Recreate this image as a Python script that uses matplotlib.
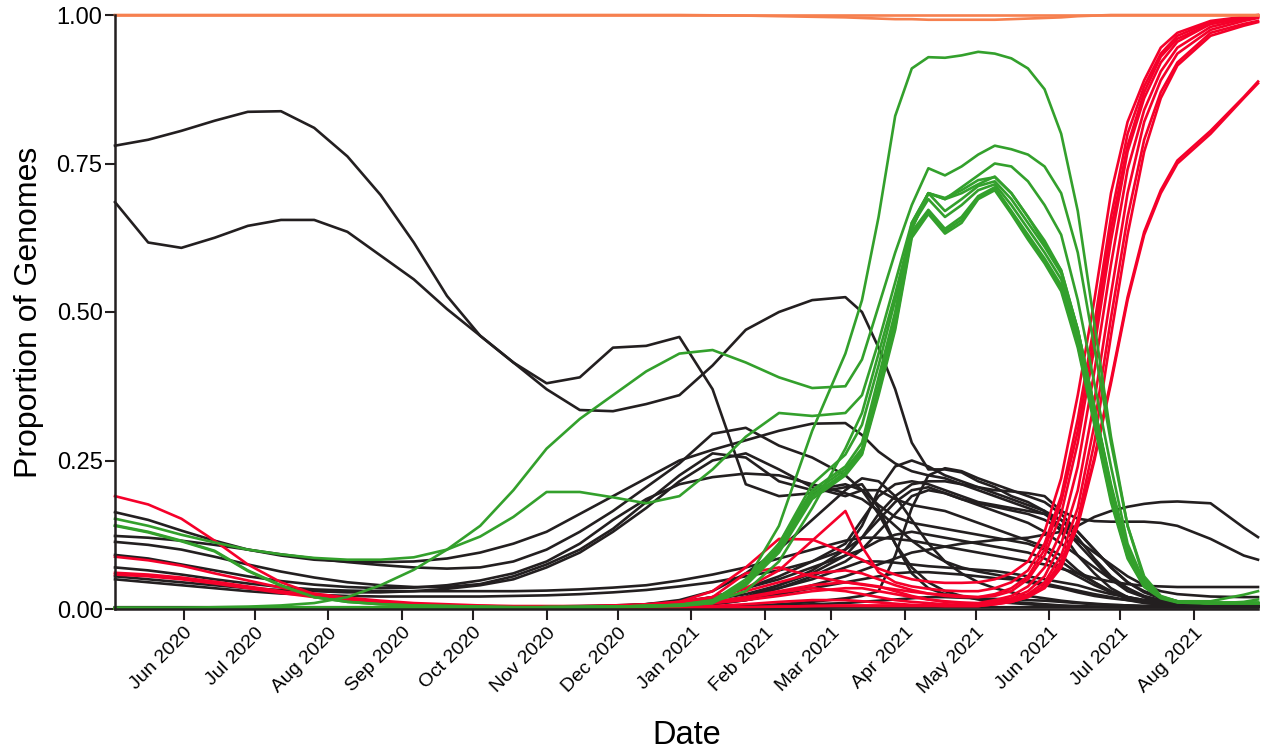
import numpy as np
import pandas as pd
import matplotlib
matplotlib.use("Agg")
import matplotlib.pyplot as plt
import matplotlib.dates as mdates
from matplotlib.ticker import FixedLocator, FormatStrFormatter

# ---------------- data ----------------
dates = pd.to_datetime([
    "2020-05-03", "2020-05-17", "2020-05-31", "2020-06-14", "2020-06-28", "2020-07-12",
    "2020-07-26", "2020-08-09", "2020-08-23", "2020-09-06", "2020-09-20", "2020-10-04",
    "2020-10-18", "2020-11-01", "2020-11-15", "2020-11-29", "2020-12-13", "2020-12-27",
    "2021-01-10", "2021-01-24", "2021-02-07", "2021-02-21",
    "2021-03-07", "2021-03-14", "2021-03-21", "2021-03-28", "2021-04-04", "2021-04-11",
    "2021-04-18", "2021-04-25",
    "2021-05-02", "2021-05-09", "2021-05-16", "2021-05-23", "2021-05-30", "2021-06-06",
    "2021-06-13", "2021-06-20", "2021-06-27", "2021-07-04", "2021-07-11", "2021-07-18",
    "2021-07-25",
    "2021-08-08", "2021-08-22", "2021-08-28"])

# other lineages (black)
k1 = [0.780, 0.790, 0.805, 0.822, 0.837, 0.838, 0.810, 0.762, 0.697, 0.617, 0.527, 0.460, 0.415, 0.370, 0.335, 0.333, 0.345, 0.360,
      0.410, 0.470, 0.500, 0.520,
      0.525, 0.500, 0.440, 0.370, 0.280, 0.235, 0.235, 0.230,
      0.215, 0.205, 0.190, 0.180, 0.165, 0.130, 0.090, 0.060, 0.035, 0.020, 0.012, 0.008, 0.006,
      0.005, 0.004, 0.004]
k2 = [0.685, 0.617, 0.608, 0.625, 0.645, 0.655, 0.655, 0.635, 0.595, 0.555, 0.505, 0.460, 0.415, 0.380, 0.390, 0.440, 0.443, 0.458,
      0.370, 0.210, 0.190, 0.195,
      0.205, 0.210, 0.170, 0.110, 0.060, 0.035, 0.025, 0.020,
      0.018, 0.015, 0.012, 0.010, 0.008, 0.006, 0.005, 0.004, 0.004, 0.003, 0.003, 0.003, 0.003,
      0.003, 0.003, 0.003]
k3 = [0.163, 0.150, 0.132, 0.115, 0.100, 0.090, 0.083, 0.080, 0.079, 0.080, 0.085, 0.095, 0.110, 0.130, 0.160, 0.190, 0.220, 0.250,
      0.268, 0.284, 0.300, 0.312,
      0.313, 0.293, 0.265, 0.245, 0.232, 0.225, 0.220, 0.210,
      0.200, 0.190, 0.180, 0.170, 0.160, 0.140, 0.110, 0.080, 0.050, 0.030, 0.020, 0.012, 0.008,
      0.005, 0.004, 0.004]
k4 = [0.123, 0.120, 0.115, 0.108, 0.100, 0.092, 0.085, 0.079, 0.074, 0.070, 0.068, 0.070, 0.080, 0.100, 0.130, 0.165, 0.205, 0.245,
      0.295, 0.305, 0.275, 0.255,
      0.225, 0.200, 0.175, 0.155, 0.145, 0.140, 0.135, 0.130,
      0.125, 0.120, 0.115, 0.110, 0.100, 0.080, 0.060, 0.045, 0.030, 0.020, 0.012, 0.008, 0.006,
      0.005, 0.004, 0.004]
k5 = [0.113, 0.108, 0.100, 0.088, 0.075, 0.063, 0.053, 0.045, 0.040, 0.037, 0.037, 0.042, 0.055, 0.075, 0.100, 0.135, 0.180, 0.225,
      0.262, 0.255, 0.215, 0.200,
      0.210, 0.200, 0.160, 0.110, 0.070, 0.045, 0.030, 0.022,
      0.016, 0.012, 0.010, 0.008, 0.006, 0.005, 0.004, 0.004, 0.003, 0.003, 0.003, 0.003, 0.003,
      0.003, 0.003, 0.003]
k6 = [0.055, 0.050, 0.045, 0.040, 0.035, 0.032, 0.030, 0.028, 0.028, 0.030, 0.034, 0.040, 0.050, 0.070, 0.095, 0.130, 0.170, 0.215,
      0.250, 0.262, 0.235, 0.205,
      0.190, 0.200, 0.200, 0.185, 0.175, 0.170, 0.165, 0.155,
      0.145, 0.135, 0.125, 0.115, 0.105, 0.090, 0.065, 0.045, 0.028, 0.017, 0.011, 0.007, 0.005,
      0.004, 0.004, 0.004]
k7 = [0.091, 0.085, 0.075, 0.065, 0.055, 0.047, 0.041, 0.037, 0.035, 0.036, 0.040, 0.048, 0.060, 0.080, 0.110, 0.150, 0.185, 0.210,
      0.222, 0.228, 0.225, 0.210,
      0.195, 0.185, 0.165, 0.140, 0.115, 0.095, 0.080, 0.070,
      0.063, 0.058, 0.053, 0.048, 0.043, 0.037, 0.031, 0.025, 0.020, 0.015, 0.010, 0.008, 0.006,
      0.005, 0.004, 0.004]
k8 = [0.070, 0.065, 0.058, 0.050, 0.043, 0.037, 0.033, 0.031, 0.030, 0.030, 0.030, 0.030, 0.030, 0.031, 0.033, 0.036, 0.040, 0.048,
      0.058, 0.070, 0.085, 0.100,
      0.115, 0.120, 0.120, 0.118, 0.115, 0.110, 0.105, 0.100,
      0.095, 0.090, 0.085, 0.080, 0.075, 0.068, 0.060, 0.052, 0.046, 0.042, 0.039, 0.038, 0.037,
      0.037, 0.037, 0.037]
k9 = [0.050, 0.045, 0.040, 0.035, 0.030, 0.026, 0.024, 0.022, 0.021, 0.021, 0.021, 0.021, 0.022, 0.023, 0.025, 0.028, 0.032, 0.038,
      0.045, 0.055, 0.065, 0.080,
      0.100, 0.120, 0.150, 0.180, 0.200, 0.205, 0.195, 0.185,
      0.178, 0.172, 0.166, 0.160, 0.150, 0.135, 0.115, 0.095, 0.075, 0.055, 0.040, 0.030, 0.025,
      0.021, 0.020, 0.020]
k10 = [0.002, 0.002, 0.002, 0.002, 0.002, 0.002, 0.002, 0.002, 0.002, 0.002, 0.002, 0.003, 0.003, 0.004, 0.005, 0.006, 0.008, 0.011,
       0.016, 0.025, 0.040, 0.065,
       0.100, 0.140, 0.200, 0.240, 0.250, 0.240, 0.225, 0.215,
       0.205, 0.195, 0.185, 0.175, 0.165, 0.150, 0.120, 0.085, 0.055, 0.035, 0.020, 0.012, 0.008,
       0.005, 0.004, 0.004]
k11 = [0.001, 0.001, 0.001, 0.001, 0.001, 0.001, 0.001, 0.001, 0.001, 0.001, 0.001, 0.001, 0.001, 0.001, 0.001, 0.001, 0.002, 0.002,
       0.003, 0.005, 0.008, 0.012,
       0.018, 0.022, 0.030, 0.090, 0.170, 0.225, 0.237, 0.232,
       0.220, 0.210, 0.200, 0.190, 0.180, 0.160, 0.130, 0.100, 0.070, 0.045, 0.030, 0.020, 0.013,
       0.008, 0.006, 0.005]
k12 = [0.001, 0.001, 0.001, 0.001, 0.001, 0.001, 0.001, 0.001, 0.001, 0.001, 0.001, 0.001, 0.001, 0.001, 0.002, 0.003, 0.005, 0.010,
       0.020, 0.035, 0.055, 0.080,
       0.110, 0.150, 0.190, 0.210, 0.215, 0.210, 0.200, 0.190,
       0.180, 0.175, 0.170, 0.165, 0.160, 0.150, 0.130, 0.100, 0.070, 0.045, 0.028, 0.018, 0.012,
       0.008, 0.006, 0.005]
k13 = [0.001, 0.001, 0.001, 0.001, 0.001, 0.001, 0.001, 0.001, 0.001, 0.001, 0.001, 0.001, 0.001, 0.001, 0.002, 0.003, 0.004, 0.006,
       0.010, 0.020, 0.035, 0.055,
       0.080, 0.100, 0.130, 0.160, 0.190, 0.200, 0.195, 0.185,
       0.175, 0.165, 0.155, 0.145, 0.130, 0.110, 0.090, 0.070, 0.050, 0.035, 0.022, 0.015, 0.010,
       0.007, 0.005, 0.005]
k14 = [0.001, 0.001, 0.001, 0.001, 0.001, 0.001, 0.001, 0.001, 0.001, 0.001, 0.001, 0.001, 0.001, 0.001, 0.002, 0.003, 0.004, 0.006,
       0.008, 0.015, 0.025, 0.040,
       0.055, 0.065, 0.075, 0.085, 0.095, 0.100, 0.105, 0.110,
       0.113, 0.116, 0.118, 0.120, 0.125, 0.130, 0.140, 0.155, 0.165, 0.172, 0.177, 0.180, 0.181,
       0.178, 0.137, 0.121]
k15 = [0.001, 0.001, 0.001, 0.001, 0.001, 0.001, 0.001, 0.001, 0.001, 0.001, 0.001, 0.001, 0.001, 0.001, 0.002, 0.003, 0.005, 0.007,
       0.010, 0.020, 0.040, 0.060,
       0.090, 0.120, 0.160, 0.190, 0.210, 0.215, 0.215, 0.210,
       0.205, 0.200, 0.198, 0.195, 0.190, 0.165, 0.152, 0.148, 0.147, 0.147, 0.147, 0.145, 0.140,
       0.118, 0.090, 0.083]
k16 = [0.001, 0.001, 0.001, 0.001, 0.001, 0.001, 0.001, 0.001, 0.001, 0.001, 0.001, 0.001, 0.001, 0.001, 0.003, 0.005, 0.008, 0.012,
       0.020, 0.035, 0.050, 0.070,
       0.090, 0.100, 0.115, 0.125, 0.130, 0.125, 0.120, 0.115,
       0.110, 0.105, 0.100, 0.095, 0.085, 0.070, 0.055, 0.040, 0.028, 0.020, 0.015, 0.012, 0.010,
       0.008, 0.007, 0.006]
k17 = [0.001, 0.001, 0.001, 0.001, 0.001, 0.001, 0.001, 0.001, 0.001, 0.001, 0.001, 0.001, 0.001, 0.001, 0.002, 0.003, 0.004, 0.006,
       0.008, 0.015, 0.025, 0.035,
       0.045, 0.050, 0.055, 0.060, 0.062, 0.062, 0.060, 0.058,
       0.055, 0.052, 0.050, 0.045, 0.040, 0.035, 0.028, 0.022, 0.018, 0.015, 0.012, 0.010, 0.010,
       0.010, 0.010, 0.010]
k18 = [0.001, 0.001, 0.001, 0.001, 0.001, 0.001, 0.001, 0.001, 0.001, 0.001, 0.001, 0.001, 0.001, 0.001, 0.002, 0.003, 0.004, 0.006,
       0.010, 0.020, 0.035, 0.050,
       0.070, 0.080, 0.080, 0.078, 0.075, 0.072, 0.070, 0.068,
       0.066, 0.064, 0.060, 0.055, 0.050, 0.045, 0.040, 0.032, 0.025, 0.020, 0.015, 0.012, 0.010,
       0.008, 0.006, 0.005]
k19 = [0.003, 0.003, 0.003, 0.003, 0.003, 0.003, 0.003, 0.003, 0.003, 0.003, 0.003, 0.003, 0.003, 0.003, 0.003, 0.003, 0.003, 0.003,
       0.004, 0.005, 0.006, 0.008,
       0.010, 0.012, 0.014, 0.016, 0.018, 0.020, 0.020, 0.019,
       0.018, 0.017, 0.016, 0.015, 0.014, 0.012, 0.010, 0.008, 0.007, 0.006, 0.005, 0.005, 0.005,
       0.005, 0.005, 0.005]
k20 = [0.002, 0.002, 0.002, 0.002, 0.002, 0.002, 0.002, 0.002, 0.002, 0.002, 0.002, 0.002, 0.002, 0.002, 0.002, 0.002, 0.002, 0.002,
       0.002, 0.002, 0.002, 0.002,
       0.003, 0.003, 0.003, 0.003, 0.003, 0.003, 0.003, 0.003,
       0.003, 0.003, 0.003, 0.003, 0.003, 0.003, 0.003, 0.003, 0.003, 0.003, 0.003, 0.003, 0.003,
       0.003, 0.003, 0.003]
k21 = [0.001, 0.001, 0.001, 0.001, 0.001, 0.001, 0.001, 0.001, 0.001, 0.001, 0.001, 0.001, 0.001, 0.001, 0.002, 0.004, 0.008, 0.015,
       0.030, 0.060, 0.100, 0.150,
       0.200, 0.220, 0.215, 0.190, 0.150, 0.110, 0.080, 0.060,
       0.045, 0.035, 0.028, 0.022, 0.018, 0.014, 0.011, 0.009, 0.007, 0.006, 0.005, 0.005, 0.004,
       0.004, 0.004, 0.004]

# Alpha-like lineages (green)
g1 = [0.002, 0.002, 0.002, 0.002, 0.002, 0.002, 0.002, 0.002, 0.002, 0.002, 0.002, 0.003, 0.003, 0.003, 0.004, 0.004, 0.005, 0.007,
      0.015, 0.045, 0.140, 0.300,
      0.430, 0.520, 0.660, 0.830, 0.910, 0.929, 0.928, 0.932,
      0.938, 0.935, 0.927, 0.910, 0.875, 0.800, 0.670, 0.480, 0.290, 0.140, 0.050, 0.020, 0.012,
      0.010, 0.010, 0.010]
g2 = [0.002, 0.002, 0.002, 0.003, 0.004, 0.006, 0.010, 0.020, 0.040, 0.066, 0.100, 0.140, 0.200, 0.270, 0.320, 0.360, 0.400, 0.430,
      0.436, 0.415, 0.390, 0.372,
      0.375, 0.420, 0.510, 0.600, 0.680, 0.742, 0.730, 0.745,
      0.765, 0.780, 0.774, 0.765, 0.745, 0.700, 0.600, 0.440, 0.280, 0.140, 0.055, 0.022, 0.013,
      0.010, 0.010, 0.010]
g3 = [0.152, 0.140, 0.125, 0.112, 0.100, 0.092, 0.086, 0.083, 0.083, 0.087, 0.100, 0.122, 0.155, 0.197, 0.197, 0.188, 0.178, 0.190,
      0.235, 0.290, 0.330, 0.325,
      0.330, 0.360, 0.450, 0.550, 0.650, 0.700, 0.690, 0.710,
      0.730, 0.750, 0.745, 0.720, 0.680, 0.630, 0.520, 0.380, 0.240, 0.110, 0.045, 0.020, 0.012,
      0.010, 0.010, 0.010]
g4 = [0.141, 0.130, 0.115, 0.098, 0.065, 0.040, 0.020, 0.012, 0.008, 0.006, 0.005, 0.004, 0.003, 0.003, 0.003, 0.003, 0.004, 0.006,
      0.012, 0.030, 0.080, 0.170,
      0.270, 0.330, 0.430, 0.530, 0.640, 0.700, 0.690, 0.700,
      0.715, 0.728, 0.700, 0.660, 0.620, 0.570, 0.470, 0.340, 0.210, 0.100, 0.040, 0.020, 0.012,
      0.010, 0.010, 0.010]
g5 = [0.140, 0.129, 0.114, 0.097, 0.064, 0.039, 0.020, 0.012, 0.008, 0.006, 0.005, 0.004, 0.003, 0.003, 0.003, 0.003, 0.004, 0.005,
      0.010, 0.040, 0.100, 0.190,
      0.230, 0.265, 0.370, 0.480, 0.635, 0.672, 0.640, 0.660,
      0.695, 0.710, 0.670, 0.630, 0.590, 0.545, 0.450, 0.320, 0.190, 0.090, 0.040, 0.020, 0.012,
      0.010, 0.010, 0.010]
g6 = [0.001, 0.001, 0.001, 0.001, 0.001, 0.002, 0.002, 0.002, 0.002, 0.002, 0.002, 0.002, 0.002, 0.003, 0.003, 0.004, 0.005, 0.006,
      0.012, 0.045, 0.105, 0.195,
      0.235, 0.270, 0.375, 0.490, 0.645, 0.690, 0.660, 0.680,
      0.705, 0.715, 0.680, 0.640, 0.600, 0.555, 0.460, 0.330, 0.200, 0.095, 0.042, 0.020, 0.012,
      0.010, 0.010, 0.010]
g7 = [0.001, 0.001, 0.001, 0.001, 0.001, 0.002, 0.002, 0.002, 0.002, 0.002, 0.002, 0.002, 0.002, 0.003, 0.003, 0.004, 0.005, 0.006,
      0.010, 0.040, 0.095, 0.185,
      0.225, 0.260, 0.360, 0.470, 0.625, 0.665, 0.632, 0.650,
      0.690, 0.705, 0.665, 0.622, 0.582, 0.535, 0.440, 0.310, 0.180, 0.085, 0.037, 0.018, 0.011,
      0.009, 0.012, 0.016]
g8 = [0.001, 0.001, 0.001, 0.001, 0.001, 0.002, 0.002, 0.002, 0.002, 0.002, 0.002, 0.002, 0.002, 0.003, 0.003, 0.004, 0.005, 0.007,
      0.014, 0.050, 0.110, 0.200,
      0.240, 0.280, 0.390, 0.500, 0.650, 0.700, 0.670, 0.690,
      0.712, 0.720, 0.690, 0.650, 0.610, 0.565, 0.470, 0.340, 0.205, 0.100, 0.045, 0.021, 0.013,
      0.013, 0.024, 0.030]
g9 = [0.001, 0.001, 0.001, 0.001, 0.001, 0.002, 0.002, 0.002, 0.002, 0.002, 0.002, 0.002, 0.002, 0.003, 0.003, 0.004, 0.005, 0.006,
      0.011, 0.042, 0.100, 0.190,
      0.228, 0.262, 0.365, 0.475, 0.630, 0.668, 0.636, 0.655,
      0.692, 0.708, 0.668, 0.625, 0.585, 0.540, 0.445, 0.315, 0.185, 0.088, 0.038, 0.019, 0.012,
      0.010, 0.010, 0.010]
g10 = [0.001, 0.001, 0.001, 0.001, 0.001, 0.002, 0.002, 0.002, 0.002, 0.002, 0.002, 0.002, 0.002, 0.003, 0.003, 0.004, 0.005, 0.007,
       0.012, 0.040, 0.110, 0.210,
       0.260, 0.310, 0.410, 0.520, 0.640, 0.700, 0.692, 0.705,
       0.722, 0.727, 0.700, 0.660, 0.615, 0.570, 0.470, 0.340, 0.205, 0.098, 0.040, 0.020, 0.012,
       0.010, 0.010, 0.010]

# Delta-like lineages (red)
d1 = [0.190, 0.176, 0.152, 0.115, 0.075, 0.045, 0.025, 0.015, 0.010, 0.007, 0.006, 0.005, 0.004, 0.004, 0.004, 0.005, 0.007, 0.012,
      0.030, 0.070, 0.118, 0.117,
      0.095, 0.083, 0.068, 0.058, 0.050, 0.046, 0.044, 0.044,
      0.045, 0.050, 0.060, 0.080, 0.130, 0.220, 0.360, 0.520, 0.700, 0.820, 0.890, 0.945, 0.970,
      0.990, 0.997, 1.000]
d2 = [0.088, 0.082, 0.073, 0.060, 0.048, 0.036, 0.026, 0.019, 0.014, 0.010, 0.008, 0.006, 0.005, 0.005, 0.005, 0.006, 0.008, 0.012,
      0.020, 0.035, 0.065, 0.115,
      0.165, 0.105, 0.062, 0.045, 0.038, 0.034, 0.031, 0.030,
      0.030, 0.035, 0.045, 0.065, 0.110, 0.190, 0.320, 0.480, 0.660, 0.800, 0.880, 0.935, 0.965,
      0.988, 0.996, 0.999]
d3 = [0.058, 0.055, 0.050, 0.043, 0.035, 0.027, 0.020, 0.014, 0.010, 0.007, 0.005, 0.004, 0.004, 0.004, 0.004, 0.005, 0.006, 0.009,
      0.020, 0.060, 0.070, 0.055,
      0.045, 0.041, 0.037, 0.033, 0.029, 0.026, 0.024, 0.022,
      0.020, 0.022, 0.030, 0.050, 0.090, 0.160, 0.280, 0.440, 0.620, 0.770, 0.860, 0.920, 0.955,
      0.985, 0.995, 0.998]
d4 = [0.061, 0.058, 0.053, 0.046, 0.038, 0.030, 0.022, 0.016, 0.011, 0.008, 0.006, 0.005, 0.004, 0.004, 0.004, 0.004, 0.005, 0.007,
      0.010, 0.015, 0.022, 0.030,
      0.035, 0.035, 0.030, 0.025, 0.020, 0.016, 0.013, 0.011,
      0.010, 0.015, 0.022, 0.038, 0.070, 0.130, 0.240, 0.400, 0.580, 0.740, 0.840, 0.905, 0.945,
      0.980, 0.993, 0.997]
d5 = [0.001, 0.001, 0.001, 0.001, 0.001, 0.001, 0.001, 0.001, 0.001, 0.001, 0.001, 0.001, 0.002, 0.002, 0.003, 0.004, 0.006, 0.008,
      0.012, 0.020, 0.030, 0.040,
      0.045, 0.042, 0.038, 0.030, 0.022, 0.016, 0.012, 0.010,
      0.008, 0.012, 0.018, 0.030, 0.055, 0.110, 0.200, 0.350, 0.530, 0.700, 0.820, 0.890, 0.935,
      0.975, 0.990, 0.995]
d6 = [0.001, 0.001, 0.001, 0.001, 0.001, 0.001, 0.001, 0.001, 0.001, 0.001, 0.001, 0.001, 0.001, 0.001, 0.002, 0.003, 0.004, 0.006,
      0.010, 0.018, 0.028, 0.035,
      0.030, 0.025, 0.020, 0.015, 0.012, 0.010, 0.008, 0.007,
      0.006, 0.010, 0.015, 0.025, 0.045, 0.090, 0.170, 0.310, 0.490, 0.660, 0.790, 0.870, 0.920,
      0.970, 0.985, 0.990]
d7 = [0.001, 0.001, 0.001, 0.001, 0.001, 0.001, 0.001, 0.001, 0.001, 0.001, 0.001, 0.001, 0.001, 0.001, 0.001, 0.001, 0.002, 0.003,
      0.005, 0.008, 0.012, 0.015,
      0.015, 0.013, 0.011, 0.009, 0.007, 0.006, 0.005, 0.005,
      0.005, 0.008, 0.012, 0.020, 0.040, 0.080, 0.150, 0.280, 0.460, 0.630, 0.770, 0.860, 0.915,
      0.965, 0.982, 0.988]
d8 = [0.001, 0.001, 0.001, 0.001, 0.001, 0.001, 0.001, 0.001, 0.001, 0.001, 0.001, 0.001, 0.001, 0.001, 0.002, 0.003, 0.005, 0.008,
      0.015, 0.030, 0.045, 0.060,
      0.065, 0.060, 0.050, 0.040, 0.032, 0.026, 0.022, 0.020,
      0.020, 0.025, 0.035, 0.055, 0.100, 0.180, 0.300, 0.460, 0.640, 0.780, 0.870, 0.930, 0.960,
      0.985, 0.995, 0.998]
d9 = [0.001, 0.001, 0.001, 0.001, 0.001, 0.001, 0.001, 0.001, 0.001, 0.001, 0.001, 0.001, 0.001, 0.001, 0.001, 0.001, 0.001, 0.001,
      0.002, 0.003, 0.004, 0.005,
      0.005, 0.005, 0.005, 0.005, 0.005, 0.005, 0.005, 0.005,
      0.005, 0.008, 0.012, 0.020, 0.035, 0.070, 0.140, 0.250, 0.380, 0.520, 0.630, 0.700, 0.750,
      0.800, 0.860, 0.885]
d10 = [0.001, 0.001, 0.001, 0.001, 0.001, 0.001, 0.001, 0.001, 0.001, 0.001, 0.001, 0.001, 0.001, 0.001, 0.001, 0.001, 0.001, 0.001,
       0.002, 0.003, 0.004, 0.005,
       0.006, 0.006, 0.006, 0.006, 0.006, 0.006, 0.006, 0.006,
       0.006, 0.009, 0.013, 0.022, 0.038, 0.075, 0.145, 0.255, 0.385, 0.525, 0.635, 0.705, 0.755,
       0.805, 0.862, 0.888]

# parent-level totals (orange)
o1 = [1.000, 1.000, 1.000, 1.000, 1.000, 1.000, 1.000, 1.000, 1.000, 1.000, 1.000, 1.000, 1.000, 1.000, 1.000, 1.000, 1.000, 1.000,
      1.000, 1.000, 1.000, 1.000,
      1.000, 1.000, 1.000, 1.000, 1.000, 1.000, 1.000, 1.000,
      1.000, 1.000, 1.000, 1.000, 1.000, 1.000, 1.000, 1.000, 1.000, 1.000, 1.000, 1.000, 1.000,
      1.000, 1.000, 1.000]
o2 = [1.000, 1.000, 1.000, 1.000, 1.000, 1.000, 1.000, 1.000, 1.000, 1.000, 1.000, 1.000, 1.000, 1.000, 1.000, 1.000, 1.000, 1.000,
      0.9995, 0.999, 0.998, 0.997,
      0.996, 0.995, 0.994, 0.993, 0.993, 0.992, 0.992, 0.992,
      0.992, 0.992, 0.993, 0.994, 0.995, 0.996, 0.998, 0.999, 1.000, 1.000, 1.000, 1.000, 1.000,
      1.000, 1.000, 1.000]

black_series = [k1, k2, k3, k4, k5, k6, k7, k8, k9, k10, k11, k12, k13, k14, k15, k16, k17, k18, k19, k20, k21]
green_series = [g1, g2, g3, g4, g5, g6, g7, g8, g9, g10]
red_series = [d1, d2, d3, d4, d5, d6, d7, d8, d9, d10]
orange_series = [o2, o1]

month_ticks = pd.to_datetime(["2020-06-01", "2020-07-01", "2020-08-01", "2020-09-01", "2020-10-01",
                              "2020-11-01", "2020-12-01", "2021-01-01", "2021-02-01", "2021-03-01",
                              "2021-04-01", "2021-05-01", "2021-06-01", "2021-07-01", "2021-08-01"])
y_ticks = [0.0, 0.25, 0.5, 0.75, 1.0]

# ---------------- style ----------------
BLACK = "#231f20"
GREEN = "#33a02c"
RED = "#f5002a"
ORANGE = "#f6804f"

plt.rcParams["font.family"] = ["Liberation Sans", "DejaVu Sans"]

fig = plt.figure(figsize=(12.62, 7.52), dpi=100)
ax = fig.add_axes([115 / 1262, 1 - 609 / 752, (1258 - 115) / 1262, (609 - 15) / 752])

lw = 1.9
for s in black_series:
    ax.plot(dates, s, color=BLACK, lw=lw, clip_on=False, solid_joinstyle="round")
for s in red_series:
    ax.plot(dates, s, color=RED, lw=lw, clip_on=False, solid_joinstyle="round")
for s in green_series:
    ax.plot(dates, s, color=GREEN, lw=lw, clip_on=False, solid_joinstyle="round")
for s in orange_series:
    ax.plot(dates, s, color=ORANGE, lw=lw, clip_on=False, solid_joinstyle="round")

ax.set_xlim(pd.Timestamp("2020-05-03"), pd.Timestamp("2021-08-28"))
ax.set_ylim(0, 1)

ax.xaxis.set_major_locator(FixedLocator(mdates.date2num(month_ticks)))
ax.xaxis.set_major_formatter(mdates.DateFormatter("%b %Y"))
ax.yaxis.set_major_locator(FixedLocator(y_ticks))
ax.yaxis.set_major_formatter(FormatStrFormatter("%.2f"))

for side in ("top", "right"):
    ax.spines[side].set_visible(False)
for side in ("left", "bottom"):
    ax.spines[side].set_color(BLACK)
    ax.spines[side].set_linewidth(1.8)

ax.tick_params(axis="both", direction="out", color=BLACK, width=1.5, labelcolor="black")
ax.tick_params(axis="x", length=8, labelsize=14, pad=3)
ax.tick_params(axis="y", length=7, labelsize=17, pad=2)
for lab in ax.get_xticklabels():
    lab.set_rotation(45)
    lab.set_ha("right")
    lab.set_rotation_mode("anchor")

ax.set_xlabel("Date", fontsize=23.5)
ax.set_ylabel("Proportion of Genomes", fontsize=23)
ax.xaxis.set_label_coords(0.5, -0.187)
ax.yaxis.set_label_coords(-0.062, 0.5)

fig.savefig("out.png", dpi=100)
